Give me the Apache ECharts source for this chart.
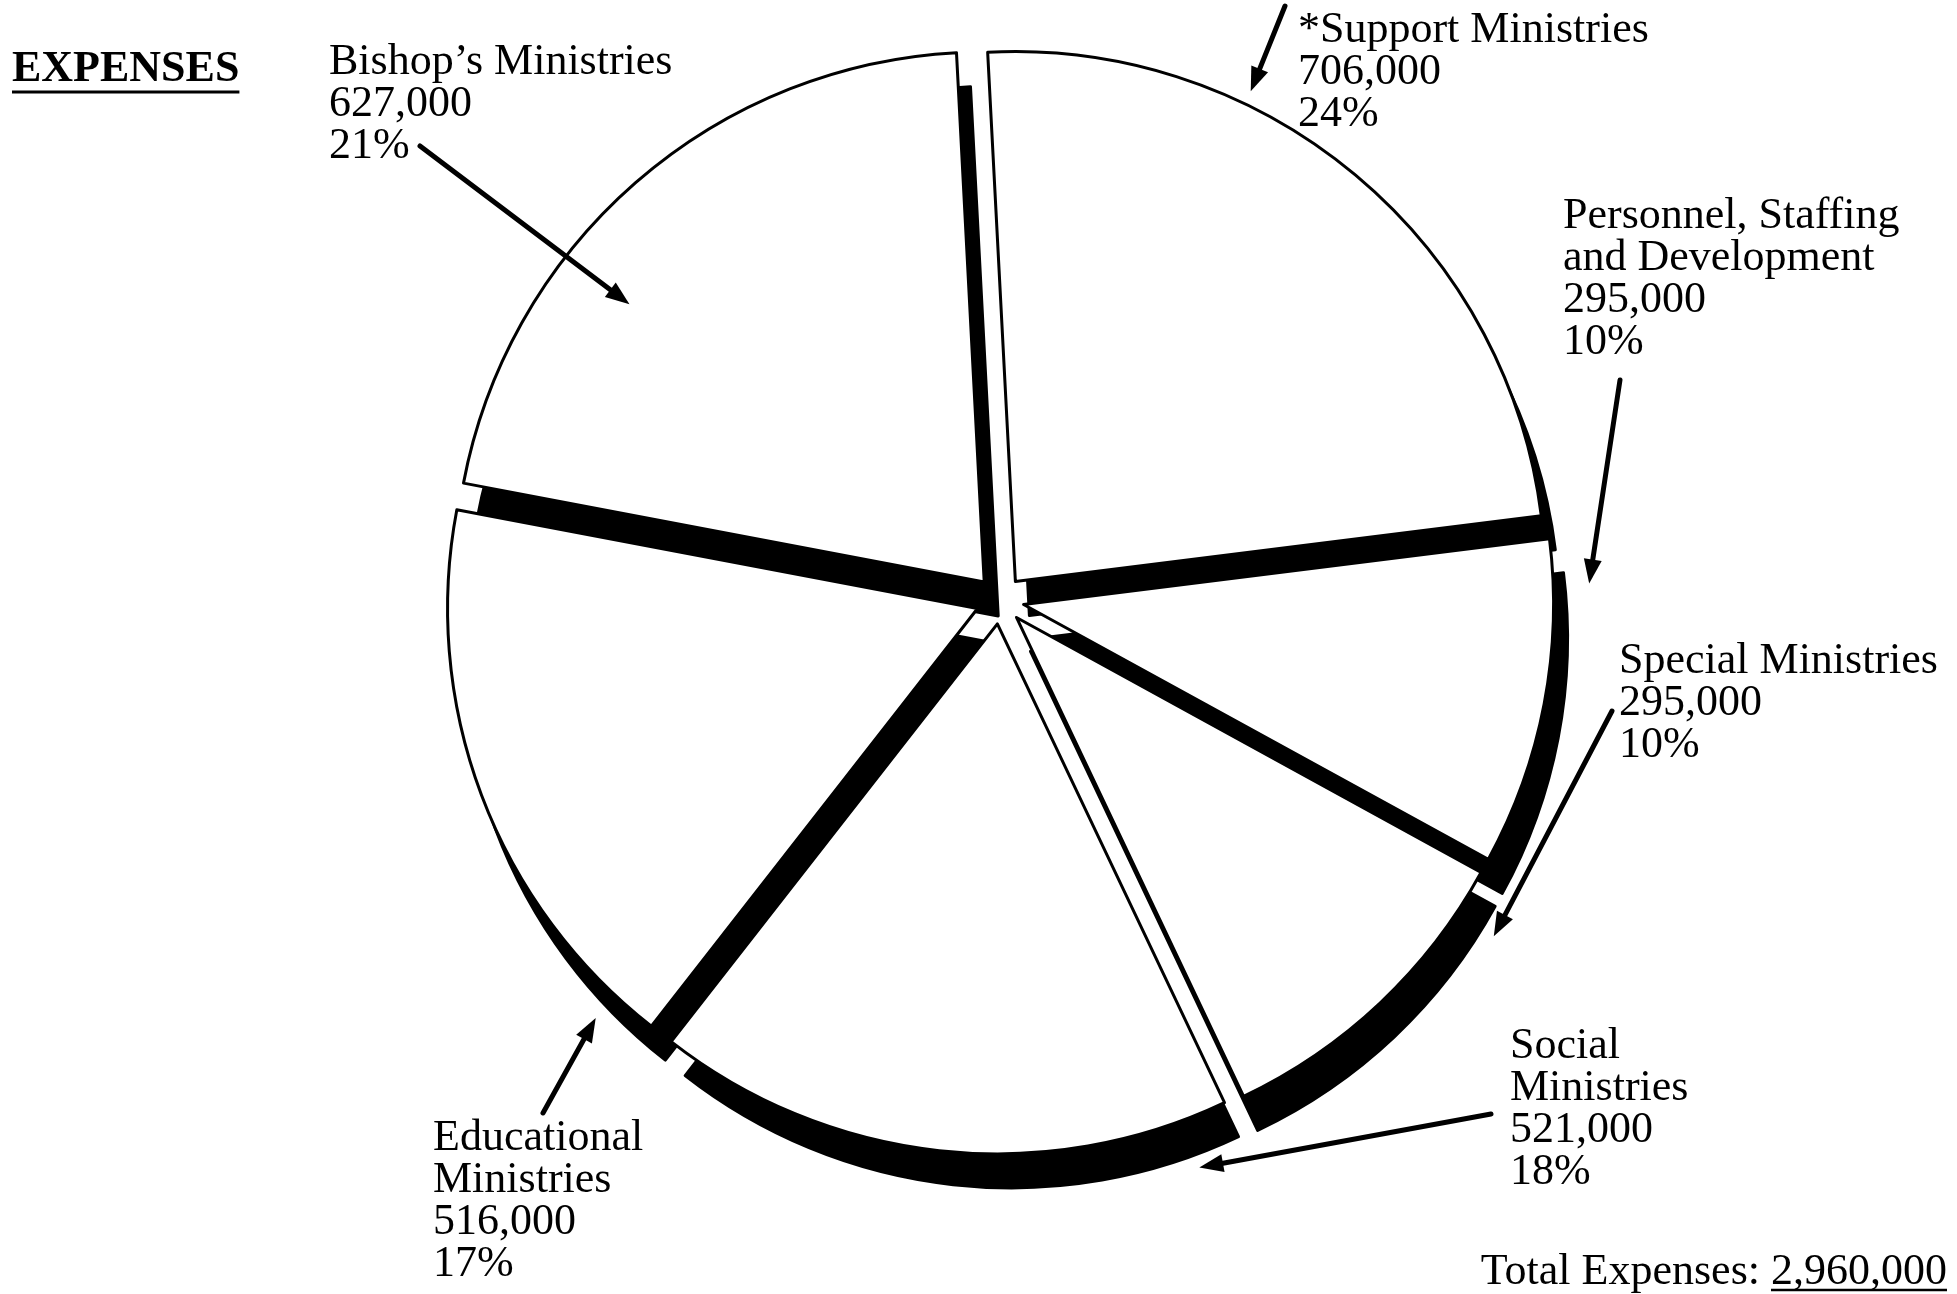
<!DOCTYPE html>
<html><head><meta charset="utf-8">
<script src="https://cdn.jsdelivr.net/npm/echarts/dist/echarts.min.js"></script>
<style>html,body{margin:0;padding:0;background:#fff}#c{width:1957px;height:1294px}</style>
</head><body><div id="c"></div>
<script>
// ---- data ----
const categories = ['*Support Ministries', 'Personnel, Staffing\nand Development', 'Special Ministries', 'Social\nMinistries', 'Educational\nMinistries', 'Bishop\u2019s Ministries'];
const amounts = [706000, 295000, 295000, 521000, 516000, 627000];
const titleText = 'EXPENSES';
const totalLabel = 'Total Expenses: ';

// ---- layout (not data) ----
const FONT = '"Liberation Serif", "Times New Roman", serif';
const CX = 1000, CY = 600, R = 530, OFF = 24, DX = 14, DY = 34, START_DEG = -3;
const labelPos = [[1298, 9], [1563, 195], [1619, 640], [1510, 1025], [433, 1117], [329, 41]];
const arrowTails = [[1285, 6], [1620, 380], [1612, 711], [1491, 1114], [543, 1113], [420, 146]];
const tipGap = [14, 36, 44, 50, 30, null]; // null: arrow ends inside slice

const total = amounts.reduce((a, b) => a + b, 0);
const fmt = n => n.toLocaleString('en-US');

const ctx = document.createElement('canvas').getContext('2d');
function textW(font, t) { ctx.font = font; return ctx.measureText(t).width; }

function arrow(x1, y1, x2, y2) {
  const ang = Math.atan2(y2 - y1, x2 - x1);
  const hl = 24, hw = 9;
  const bx = x2 - hl * Math.cos(ang), by = y2 - hl * Math.sin(ang);
  const px = -Math.sin(ang) * hw, py = Math.cos(ang) * hw;
  return [
    { type: 'line', silent: true, z: 100, shape: { x1: x1, y1: y1, x2: bx, y2: by }, style: { stroke: '#000', lineWidth: 5, lineCap: 'round' } },
    { type: 'polygon', silent: true, z: 100, shape: { points: [[x2, y2], [bx + px, by + py], [bx - px, by - py]] }, style: { fill: '#000' } }
  ];
}

const titleFont = 'bold 44px ' + FONT;
const bodyFont = '44px ' + FONT;

// arrows and labels, derived from the data
const annots = [];
let cum = 0;
amounts.forEach((v, i) => {
  const s = START_DEG + cum / total * 360;
  const e = s + v / total * 360;
  const mid = (s + e) / 2 * Math.PI / 180;
  cum += v;
  const t = arrowTails[i];
  let a = Math.atan2(t[0] - CX, -(t[1] - CY)) * 180 / Math.PI;
  while (a < s - 180) a += 360;
  while (a > s + 180) a -= 360;
  a = Math.min(Math.max(a, s + 5), e - 5);
  const rad = tipGap[i] === null ? R * 0.85 : R + tipGap[i];
  const ar = a * Math.PI / 180;
  const ox = CX + OFF * Math.sin(mid), oy = CY - OFF * Math.cos(mid);
  const tx = ox + rad * Math.sin(ar), ty = oy - rad * Math.cos(ar);
  annots.push(...arrow(t[0], t[1], tx, ty));
  annots.push({
    type: 'text', z: 100, x: labelPos[i][0], y: labelPos[i][1],
    style: {
      text: categories[i] + '\n' + fmt(v) + '\n' + Math.round(v / total * 100) + '%',
      font: bodyFont, lineHeight: 42, fill: '#000', align: 'left', verticalAlign: 'top'
    }
  });
});

const titleW = textW(titleFont, titleText);
const numText = fmt(total);
const numW = textW(bodyFont, numText);
const RIGHT = 1947;

const pieBase = {
  type: 'pie', radius: R, startAngle: 90 - START_DEG, clockwise: true,
  selectedMode: 'multiple', selectedOffset: OFF, avoidLabelOverlap: false,
  label: { show: false }, labelLine: { show: false },
  emphasis: { disabled: true }
};

const chart = echarts.init(document.getElementById('c'));
chart.setOption({
  animation: false,
  backgroundColor: '#fff',
  series: [
    Object.assign({}, pieBase, {
      name: 'depth', center: [CX + DX, CY + DY], silent: true, z: 1,
      data: categories.map((n, i) => ({ name: n, value: amounts[i], selected: true })),
      itemStyle: { color: '#000', borderColor: '#000', borderWidth: 3 },
      select: { itemStyle: { color: '#000', borderColor: '#000', borderWidth: 3 } }
    }),
    Object.assign({}, pieBase, {
      name: 'Expenses', center: [CX, CY], z: 2,
      data: categories.map((n, i) => ({ name: n, value: amounts[i], selected: true })),
      itemStyle: { color: '#fff', borderColor: '#000', borderWidth: 3 },
      select: { itemStyle: { color: '#fff', borderColor: '#000', borderWidth: 3 } }
    })
  ],
  graphic: [
    { type: 'text', x: 12, y: 70, style: { text: titleText, font: titleFont, fill: '#000', align: 'left', verticalAlign: 'middle' } },
    { type: 'line', shape: { x1: 12, y1: 92, x2: 12 + titleW, y2: 92 }, style: { stroke: '#000', lineWidth: 3 } },
    { type: 'text', x: RIGHT, y: 1272, style: { text: numText, font: bodyFont, fill: '#000', align: 'right', verticalAlign: 'middle' } },
    { type: 'text', x: RIGHT - numW, y: 1272, style: { text: totalLabel, font: bodyFont, fill: '#000', align: 'right', verticalAlign: 'middle' } },
    { type: 'line', shape: { x1: RIGHT - numW, y1: 1290, x2: RIGHT, y2: 1290 }, style: { stroke: '#000', lineWidth: 2.5 } }
  ].concat(annots)
});
</script>
</body></html>
